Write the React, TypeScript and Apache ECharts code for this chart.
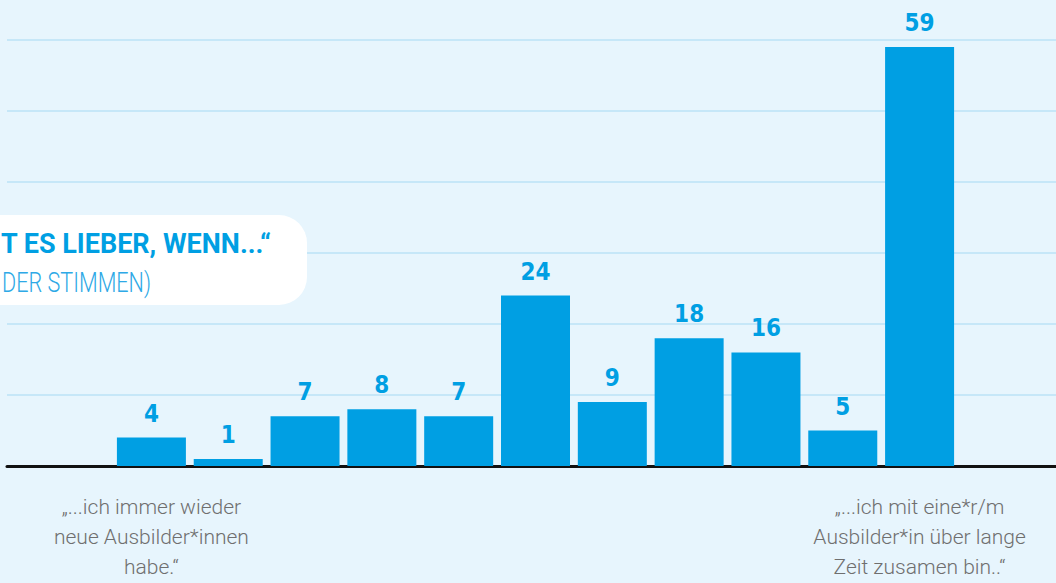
import React, { useEffect, useRef } from "react";
import * as echarts from "echarts";

const categories = ["1", "2", "3", "4", "5", "6", "7", "8", "9", "10", "11"];
const votes = [4, 1, 7, 8, 7, 24, 9, 18, 16, 5, 59];
const endLabels = [
  "„...ich immer wieder\nneue Ausbilder*innen\nhabe.“",
  "„...ich mit eine*r/m\nAusbilder*in über lange\nZeit zusamen bin..“",
];
const titleLine1 = "T ES LIEBER, WENN...“";
const titleLine2 = "DER STIMMEN)";
const yMax = 60;
const yStep = 10;

const BLUE = "#009fe3";
const BG = "#e7f5fd";

export default function App() {
  const ref = useRef<HTMLDivElement>(null);
  useEffect(() => {
    if (!ref.current) return;
    const chart = echarts.init(ref.current, undefined, { renderer: "svg" });
    const top = 40;
    const bottom = 117;
    chart.setOption({
      animation: false,
      backgroundColor: BG,
      grid: [
        { left: 113, right: 98, top, bottom },
        { left: 7, right: 0, top, bottom },
      ],
      xAxis: [
        {
          type: "category",
          gridIndex: 0,
          data: categories,
          axisLine: { show: false },
          axisTick: { show: false },
          axisLabel: {
            interval: 0,
            margin: 26,
            color: "#6f6f6f",
            fontFamily: "Roboto",
            fontWeight: 300,
            fontSize: 21,
            lineHeight: 30,
            formatter: (_v: string, i: number) =>
              i === 0 ? endLabels[0] : i === categories.length - 1 ? endLabels[1] : "",
          },
        },
        {
          type: "value",
          gridIndex: 1,
          min: 0,
          max: 1,
          axisLine: { show: true, lineStyle: { color: "#111", width: 3 } },
          axisTick: { show: false },
          axisLabel: { show: false },
          splitLine: { show: false },
        },
      ],
      yAxis: [
        {
          type: "value",
          gridIndex: 0,
          min: 0,
          max: yMax,
          interval: yStep,
          show: false,
          splitLine: { show: false },
        },
        {
          type: "value",
          gridIndex: 1,
          min: 0,
          max: yMax,
          interval: yStep,
          axisLine: { show: false },
          axisTick: { show: false },
          axisLabel: { show: false },
          splitLine: { show: true, lineStyle: { color: "#c6e7f8", width: 2 } },
        },
      ],
      series: [
        {
          type: "bar",
          xAxisIndex: 0,
          yAxisIndex: 0,
          data: votes,
          barWidth: 69,
          itemStyle: { color: BLUE },
          z: 5,
          label: {
            show: true,
            position: "top",
            distance: 12,
            color: BLUE,
            fontFamily: "DejaVu Sans Condensed, Roboto",
            fontWeight: "bold",
            fontSize: 24,
          },
        },
      ],
      graphic: [
        {
          type: "rect",
          shape: { x: -40, y: 215, width: 347, height: 90, r: 28 },
          style: { fill: "#ffffff" },
          z: 10,
        },
        {
          type: "text",
          x: 271,
          y: 244,
          scaleX: 1.0,
          z: 11,
          style: {
            text: titleLine1,
            fill: BLUE,
            fontFamily: "Roboto",
            fontWeight: "bold",
            fontSize: 27,
            align: "right",
            verticalAlign: "middle",
          },
        },
        {
          type: "text",
          x: 151,
          y: 283,
          scaleX: 0.8,
          z: 11,
          style: {
            text: titleLine2,
            fill: "#2ea9e6",
            fontFamily: "Roboto",
            fontWeight: 300,
            fontSize: 27,
            align: "right",
            verticalAlign: "middle",
          },
        },
      ],
    });
    return () => chart.dispose();
  }, []);
  return (
    <div
      ref={ref}
      style={{ position: "fixed", left: 0, top: 0, width: 1056, height: 583 }}
    />
  );
}
